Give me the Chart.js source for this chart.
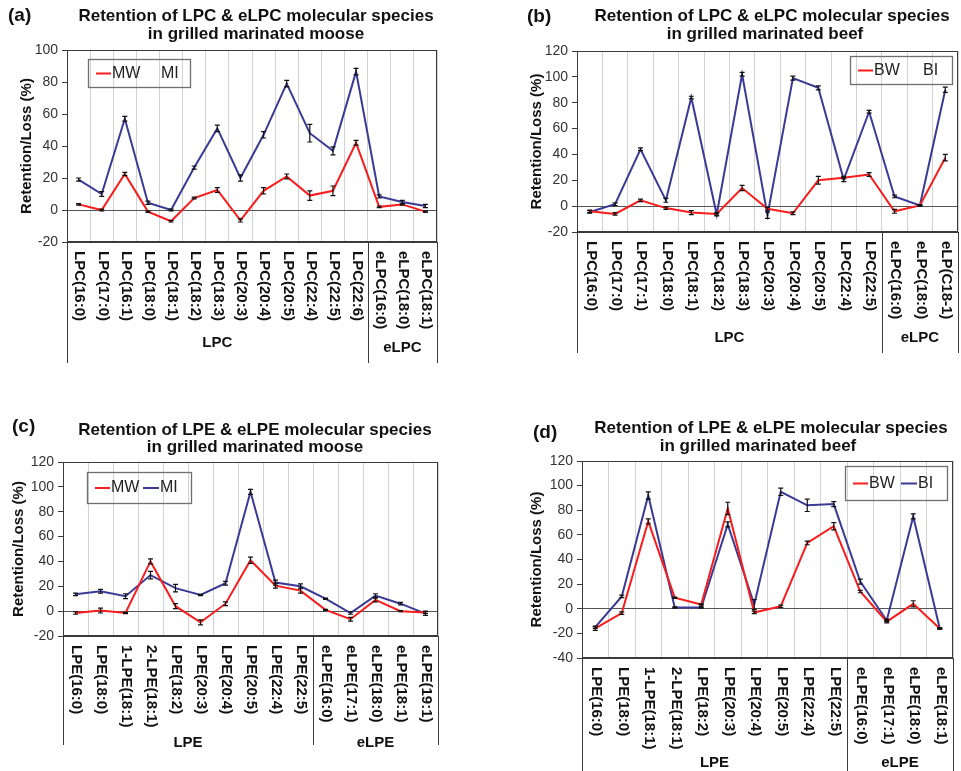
<!DOCTYPE html>
<html><head><meta charset="utf-8">
<script src="https://cdn.jsdelivr.net/npm/chart.js@4"></script>
<style>
html,body{margin:0;padding:0;background:#fff}
body{width:961px;height:771px;overflow:hidden;position:relative}
canvas{position:absolute}
</style></head><body>
<canvas id="ca" width="480" height="385" style="left:0;top:0;width:480px;height:385px"></canvas>
<canvas id="cb" width="481" height="385" style="left:480px;top:0;width:481px;height:385px"></canvas>
<canvas id="cc" width="480" height="386" style="left:0;top:385px;width:480px;height:386px"></canvas>
<canvas id="cd" width="481" height="386" style="left:480px;top:385px;width:481px;height:386px"></canvas>
<script>
// ---------- DATA ----------
// (a) LPC & eLPC, moose
const catsA = ['LPC(16:0)','LPC(17:0)','LPC(16:1)','LPC(18:0)','LPC(18:1)','LPC(18:2)','LPC(18:3)','LPC(20:3)','LPC(20:4)','LPC(20:5)','LPC(22:4)','LPC(22:5)','LPC(22:6)','eLPC(16:0)','eLPC(18:0)','eLPC(18:1)'];
const groupsA = [['LPC',13],['eLPC',3]];
const mwA = [3.5, 0, 22.5, -1, -7, 7.5, 12.5, -6.5, 12, 21, 9, 12, 42, 2, 3.5, -1];
const mwErrA = [0.5, 0.5, 1, 0.5, 0.5, 0.5, 1.5, 1, 2, 1.5, 3, 3, 1.5, 0.5, 0.5, 0.5];
const miA = [19, 10, 57, 4.5, 0, 26.5, 51, 20, 47, 79, 48, 37, 86.5, 8.5, 5, 2.5];
const miErrA = [1, 1.5, 1.5, 1, 0.5, 1, 2, 2, 2, 2, 5.5, 2.5, 2, 1, 1, 1];
const ticksA = [-20, 0, 20, 40, 60, 80, 100];

// (b) LPC & eLPC, beef
const catsB = ['LPC(16:0)','LPC(17:0)','LPC(17:1)','LPC(18:0)','LPC(18:1)','LPC(18:2)','LPC(18:3)','LPC(20:3)','LPC(20:4)','LPC(20:5)','LPC(22:4)','LPC(22:5)','eLPC(16:0)','eLPC(18:0)','eLP(C18-1)'];
const groupsB = [['LPC',12],['eLPC',3]];
const bwB = [-4, -6, 4.5, -1.5, -5, -6, 14, -2, -5.5, 20, 22, 24.5, -4, 0.5, 37.5];
const bwErrB = [1, 1, 1, 1, 1.5, 1, 2, 1, 1, 3, 1, 1.5, 1.5, 0.5, 2.5];
const biB = [-4.5, 1.5, 44, 4.5, 84, -6.5, 102, -7, 99, 91.5, 20.5, 73, 7.5, 0.5, 90];
const biErrB = [1, 1, 1, 1.5, 1, 1, 1.5, 2.5, 1.5, 1.5, 1.5, 1, 1, 0.5, 2];
const ticksB = [-20, 0, 20, 40, 60, 80, 100, 120];

// (c) LPE & eLPE, moose
const catsC = ['LPE(16:0)','LPE(18:0)','1-LPE(18:1)','2-LPE(18:1)','LPE(18:2)','LPE(20:3)','LPE(20:4)','LPE(20:5)','LPE(22:4)','LPE(22:5)','eLPE(16:0)','eLPE(17:1)','eLPE(18:0)','eLPE(18:1)','eLPE(19:1)'];
const groupsC = [['LPE',10],['eLPE',5]];
const mwC = [-1.5, 0.5, -1.5, 40, 4, -9, 6, 41, 20.5, 16.5, 1, -6.5, 9, 0, -1];
const mwErrC = [1, 2, 0.5, 2, 2, 2, 1.5, 2.5, 2, 2, 0.5, 1.5, 1.5, 0.5, 1];
const miC = [13.5, 16, 12, 29, 18.5, 13, 22.5, 96, 23, 20, 10, -1.5, 12.5, 6, -2];
const miErrC = [1, 1.5, 2, 3, 3, 0.5, 1.5, 2, 2, 2, 0.5, 1, 1.5, 1, 1.5];
const ticksC = [-20, 0, 20, 40, 60, 80, 100, 120];

// (d) LPE & eLPE, beef
const catsD = ['LPE(16:0)','LPE(18:0)','1-LPE(18:1)','2-LPE(18:1)','LPE(18:2)','LPE(20:3)','LPE(20:4)','LPE(20:5)','LPE(22:4)','LPE(22:5)','eLPE(16:0)','eLPE(17:1)','eLPE(18:0)','eLPE(18:1)'];
const groupsD = [['LPE',10],['eLPE',4]];
const bwD = [-16, -3.5, 71, 9, 3.5, 81.5, -3, 2, 53.5, 67, 14, -10.5, 4, -16];
const bwErrD = [1.5, 1, 2, 0.5, 0.5, 5, 1, 1, 1.5, 3, 1, 1, 2.5, 0.5];
const biD = [-15, 10, 92, 1, 1, 68.5, 3.5, 95, 84, 85, 22, -9.5, 75, -16];
const biErrD = [1, 1, 3, 0.5, 0.5, 2, 4, 3, 5, 2, 2, 1, 2, 0.5];
const ticksD = [-40, -20, 0, 20, 40, 60, 80, 100, 120];

// ---------- STYLE ----------
const FONT = '"Liberation Sans", Arial, Helvetica, sans-serif';
Chart.defaults.font.family = FONT;
const RED = 'rgb(250,28,28)';
const BLUE = 'rgb(58,58,150)';
const AXIS = '#3a3a3a';

// per-panel decoration layout (canvas coordinates)
const DECO = {
  ca: {letter:'(a)', letterX:8, letterY:16,
       titles:['Retention of LPC & eLPC molecular species','in grilled marinated moose'], titleX:[256,256], titleY:[16,34],
       groups: groupsA, groupY:[343,348], groupLineBottom:363,
       legend:{x:88, y:59, w:102, h:28, hideSecond:true}},
  cb: {letter:'(b)', letterX:47, letterY:17,
       titles:['Retention of LPC & eLPC molecular species','in grilled marinated beef'], titleX:[292,285], titleY:[16,34],
       groups: groupsB, groupY:[338,338], groupLineBottom:353,
       legend:{x:370, y:56, w:102, h:28, hideSecond:true}},
  cc: {letter:'(c)', letterX:12, letterY:42,
       titles:['Retention of LPE & eLPE molecular species','in grilled marinated moose'], titleX:[255,255], titleY:[45,62],
       groups: groupsC, groupY:[358,358], groupLineBottom:360,
       legend:{x:87, y:87, w:104, h:31, hideSecond:false}},
  cd: {letter:'(d)', letterX:53, letterY:48,
       titles:['Retention of LPE & eLPE molecular species','in grilled marinated beef'], titleX:[291,278], titleY:[43,61],
       groups: groupsD, groupY:[378,378], groupLineBottom:386,
       legend:{x:365, y:81, w:102, h:34, hideSecond:false}}
};

const decoPlugin = {
  id: 'deco',
  afterDatasetsDraw(chart) {
    const ctx = chart.ctx, ys = chart.scales.y;
    ctx.save();
    ctx.strokeStyle = '#111';
    ctx.lineWidth = 1.2;
    chart.data.datasets.forEach((ds, di) => {
      const meta = chart.getDatasetMeta(di);
      (ds.errors || []).forEach((e, i) => {
        const pt = meta.data[i];
        if (!pt) return;
        const v = ds.data[i];
        const yT = ys.getPixelForValue(v + e), yB = ys.getPixelForValue(v - e);
        ctx.beginPath();
        ctx.moveTo(pt.x, yT); ctx.lineTo(pt.x, yB);
        ctx.moveTo(pt.x - 2.5, yT); ctx.lineTo(pt.x + 2.5, yT);
        ctx.moveTo(pt.x - 2.5, yB); ctx.lineTo(pt.x + 2.5, yB);
        ctx.stroke();
      });
    });
    ctx.restore();
  },
  afterDraw(chart) {
    const d = DECO[chart.canvas.id];
    const ctx = chart.ctx, ca = chart.chartArea, xs = chart.scales.x;
    ctx.save();
    // plot frame
    ctx.strokeStyle = AXIS; ctx.lineWidth = 1;
    ctx.strokeRect(Math.round(ca.left) + 0.5, Math.round(ca.top) + 0.5,
                   Math.round(ca.right - ca.left) - 1, Math.round(ca.bottom - ca.top) - 1);
    // category labels (rotated clockwise)
    ctx.fillStyle = '#111';
    ctx.font = 'bold 15px ' + FONT;
    chart.data.labels.forEach((lab, i) => {
      const x = xs.getPixelForTick(i);
      ctx.save();
      ctx.translate(x + 1, ca.bottom + 9);
      ctx.rotate(Math.PI / 2);
      ctx.textAlign = 'left'; ctx.textBaseline = 'middle';
      ctx.fillText(lab, 0, 0);
      ctx.restore();
    });
    // group separators + labels
    const n = chart.data.labels.length;
    const bound = (k) => k <= 0 ? ca.left : (k >= n ? ca.right : (xs.getPixelForTick(k - 1) + xs.getPixelForTick(k)) / 2);
    ctx.strokeStyle = AXIS; ctx.lineWidth = 1;
    let start = 0;
    const edges = [0];
    d.groups.forEach(g => { start += g[1]; edges.push(start); });
    ctx.beginPath();
    edges.forEach(k => {
      const x = Math.round(bound(k)) + 0.5;
      ctx.moveTo(x, ca.bottom); ctx.lineTo(x, d.groupLineBottom);
    });
    ctx.stroke();
    ctx.font = 'bold 15px ' + FONT;
    ctx.textAlign = 'center'; ctx.textBaseline = 'middle';
    d.groups.forEach((g, gi) => {
      const x = (bound(edges[gi]) + bound(edges[gi + 1])) / 2;
      ctx.fillText(g[0], x, d.groupY[gi]);
    });
    // panel letter
    ctx.font = 'bold 19px ' + FONT;
    ctx.textAlign = 'left';
    ctx.fillText(d.letter, d.letterX, d.letterY);
    // titles
    ctx.font = 'bold 17px ' + FONT;
    ctx.textAlign = 'center';
    d.titles.forEach((t, i) => ctx.fillText(t, d.titleX[i], d.titleY[i]));
    // legend
    const L = d.legend;
    ctx.strokeStyle = '#6f6f6f'; ctx.lineWidth = 1.3;
    ctx.strokeRect(L.x + 0.5, L.y + 0.5, L.w, L.h);
    const cy = L.y + L.h / 2 + 0.5;
    const ds = chart.data.datasets;
    ctx.lineWidth = 2;
    ctx.strokeStyle = ds[0].borderColor;
    ctx.beginPath(); ctx.moveTo(L.x + 8, cy); ctx.lineTo(L.x + 23, cy); ctx.stroke();
    if (!L.hideSecond) {
      ctx.strokeStyle = ds[1].borderColor;
      ctx.beginPath(); ctx.moveTo(L.x + 56, cy); ctx.lineTo(L.x + 72, cy); ctx.stroke();
    }
    ctx.font = '16px ' + FONT;
    ctx.fillStyle = '#222';
    ctx.textAlign = 'left';
    ctx.fillText(ds[0].label, L.x + 24, cy);
    ctx.fillText(ds[1].label, L.x + 73, cy);
    ctx.restore();
  }
};

function makeChart(id, cats, s1, s2, ticks, area, titlePad) {
  const cv = document.getElementById(id);
  const W = cv.width, H = cv.height;
  return new Chart(cv, {
    type: 'line',
    data: {
      labels: cats,
      datasets: [
        {label: s1.name, data: s1.data, errors: s1.err, borderColor: RED, backgroundColor: RED,
         borderWidth: 2, pointRadius: 0, tension: 0, clip: false},
        {label: s2.name, data: s2.data, errors: s2.err, borderColor: BLUE, backgroundColor: BLUE,
         borderWidth: 2, pointRadius: 0, tension: 0, clip: false}
      ]
    },
    options: {
      responsive: false,
      animation: false,
      events: [],
      layout: {padding: {left: 0, top: area.T, right: W - area.R, bottom: H - area.B}},
      plugins: {legend: {display: false}, title: {display: false}, tooltip: {enabled: false}},
      scales: {
        x: {
          type: 'category', offset: true,
          grid: {offset: true, color: '#d2d2d2', lineWidth: 1, drawTicks: false},
          border: {display: true, color: AXIS, width: 1},
          ticks: {display: false},
          afterFit: (s) => { s.height = 0; }
        },
        y: {
          min: ticks[0], max: ticks[ticks.length - 1],
          afterBuildTicks: (s) => { s.ticks = ticks.map(v => ({value: v})); },
          grid: {
            drawOnChartArea: true, drawTicks: true, tickLength: 5, tickColor: AXIS,
            color: (c) => (c.tick && c.tick.value === 0) ? '#555' : 'rgba(0,0,0,0)'
          },
          border: {display: true, color: AXIS, width: 1},
          ticks: {color: '#333', font: {size: 14}, padding: 4},
          title: {display: true, text: 'Retention/Loss (%)', color: '#111',
                  font: {size: 15, weight: 'bold'}, padding: {top: titlePad, bottom: 0}},
          afterFit: (s) => { s.width = area.L; }
        }
      }
    },
    plugins: [decoPlugin]
  });
}

makeChart('ca', catsA, {name:'MW', data: mwA, err: mwErrA}, {name:'MI', data: miA, err: miErrA}, ticksA,
          {L:67, T:50, R:437, B:242}, 18);
makeChart('cb', catsB, {name:'BW', data: bwB, err: bwErrB}, {name:'BI', data: biB, err: biErrB}, ticksB,
          {L:97, T:51, R:478, B:232}, 48);
makeChart('cc', catsC, {name:'MW', data: mwC, err: mwErrC}, {name:'MI', data: miC, err: miErrC}, ticksC,
          {L:63, T:77, R:438, B:251}, 10);
makeChart('cd', catsD, {name:'BW', data: bwD, err: bwErrD}, {name:'BI', data: biD, err: biErrD}, ticksD,
          {L:102, T:76, R:473, B:273}, 48);
</script>
</body></html>
